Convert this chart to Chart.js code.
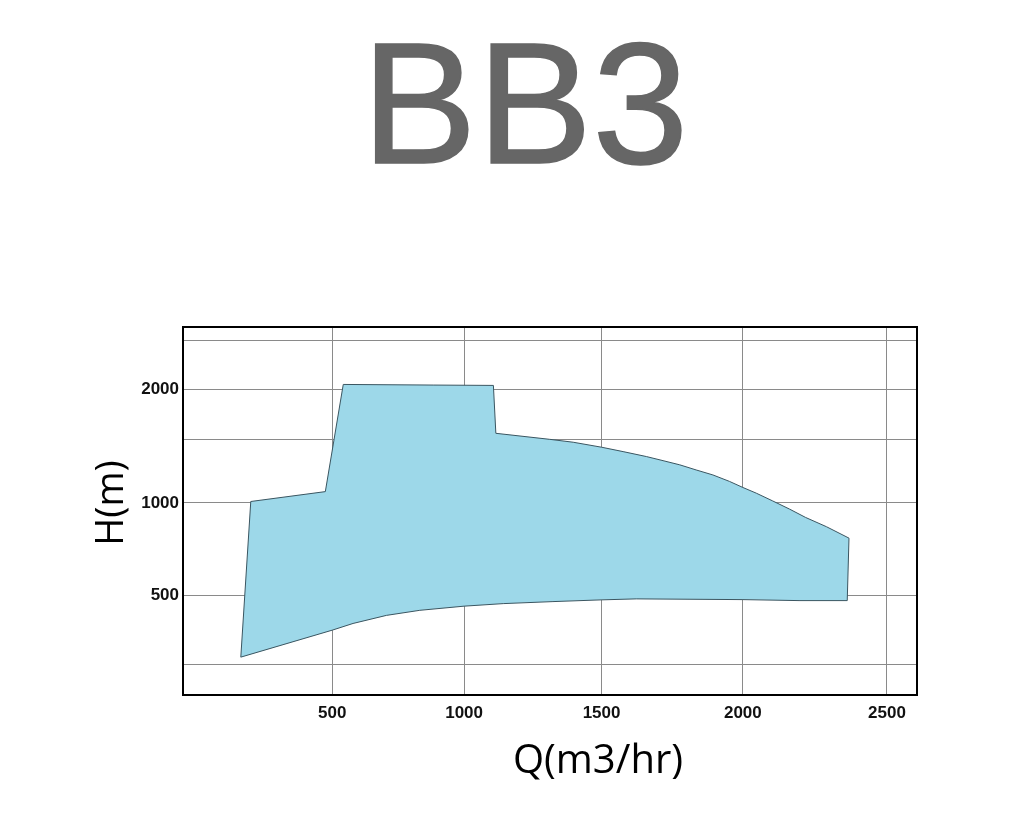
<!DOCTYPE html>
<html>
<head>
<meta charset="utf-8">
<title>BB3</title>
<script src="https://cdn.jsdelivr.net/npm/chart.js@4.4.1/dist/chart.umd.min.js"></script>
<style>
  body { margin: 0; background: #fff; }
  #grafico { display: block; }
</style>
</head>
<body>
<canvas id="grafico" width="1024" height="824"></canvas>
<script>
// Contorno del area de operacion, en sentido horario desde abajo a la izquierda
let caudal = [127, 170, 473, 543, 885, 1108, 1117, 1313, 1398, 1500, 1577, 1660, 1719, 1778, 1836, 1895,
              1953, 2000, 2047, 2103, 2163, 2219, 2291, 2369,
              2363, 2196, 2000, 1624, 1500, 1325, 1144, 1000, 835, 709, 581, 500, 127];
let altura = [286, 1009, 1078, 2056, 2049, 2045, 1555, 1500, 1474, 1430, 1392, 1350, 1316, 1282, 1241, 1202,
              1153, 1108, 1067, 1014, 958, 904, 847, 780,
              478, 478, 482, 485, 481, 474, 466, 456, 440, 421, 392, 369, 286];

let ticksX = [500, 1000, 1500, 2000, 2500];
let ticksY = [500, 1000, 2000];
let rejillaY = [265, 500, 1000, 1500, 2000, 2600];

// La grafica original no es lineal: escala de potencia
class EscalaPotencia extends Chart.LinearScale {
    _t(v) {
        const p = this.options.exponente || 1;
        return Math.sign(v) * Math.pow(Math.abs(v), p);
    }
    getPixelForValue(v) {
        if (v === null || v === undefined || isNaN(v)) return NaN;
        const s = this._t(this.min), e = this._t(this.max);
        return this.getPixelForDecimal((this._t(v) - s) / (e - s));
    }
    getValueForPixel(px) {
        const s = this._t(this.min), e = this._t(this.max);
        const t = s + this.getDecimalForPixel(px) * (e - s);
        const p = this.options.exponente || 1;
        return Math.sign(t) * Math.pow(Math.abs(t), 1 / p);
    }
}
EscalaPotencia.id = 'potencia';
EscalaPotencia.defaults = Chart.LinearScale.defaults;
Chart.register(EscalaPotencia);

let textos = {
    id: 'textos',
    afterDraw(chart) {
        const ctx = chart.ctx;
        const a = chart.chartArea;
        ctx.save();
        // marco
        ctx.strokeStyle = '#000';
        ctx.lineWidth = 2;
        ctx.strokeRect(a.left, a.top, a.right - a.left, a.bottom - a.top);
        // titulo
        ctx.fillStyle = '#666666';
        ctx.strokeStyle = '#666666';
        ctx.lineWidth = 1.5;
        ctx.font = '173px "Liberation Sans", Arial, sans-serif';
        ctx.textAlign = 'center';
        ctx.textBaseline = 'alphabetic';
        ctx.fillText('BB3', 525, 163);
        ctx.strokeText('BB3', 525, 163);
        // ejes
        ctx.fillStyle = '#000';
        ctx.font = '40px "Open Sans", sans-serif';
        ctx.textBaseline = 'middle';
        ctx.fillText('Q(m3/hr)', 598, 762);
        ctx.font = '38px "Open Sans", sans-serif';
        ctx.translate(112, 503);
        ctx.rotate(-Math.PI / 2);
        ctx.fillText('H(m)', 0, 0);
        ctx.restore();
    }
};

let puntos = caudal.map((q, i) => ({ x: q, y: altura[i] }));
let fuenteTicks = { family: '"Liberation Sans", Arial, sans-serif', size: 17, weight: 'bold' };

new Chart(document.getElementById('grafico'), {
    type: 'scatter',
    data: {
        datasets: [{
            data: puntos,
            showLine: true,
            fill: 'shape',
            backgroundColor: 'rgb(157, 216, 233)',
            borderColor: '#3a5560',
            borderWidth: 1,
            pointRadius: 0,
            tension: 0
        }]
    },
    options: {
        responsive: false,
        animation: false,
        devicePixelRatio: 1,
        layout: { padding: { left: 0, right: 107, top: 327, bottom: 0 } },
        plugins: { legend: { display: false }, tooltip: { enabled: false } },
        scales: {
            x: {
                type: 'potencia',
                exponente: 1.08,
                min: -144,
                max: 2603,
                bounds: 'data',
                afterBuildTicks: eje => { eje.ticks = ticksX.map(v => ({ value: v })); },
                afterFit: eje => { eje.height = 129; },
                grid: { color: '#8a8a8a', lineWidth: 1, drawTicks: false },
                border: { display: false },
                ticks: { color: '#111', font: fuenteTicks, padding: 8, maxRotation: 0,
                         callback: v => String(v) }
            },
            y: {
                type: 'potencia',
                exponente: 0.2946,
                min: 193,
                max: 2779,
                bounds: 'data',
                afterBuildTicks: eje => { eje.ticks = rejillaY.map(v => ({ value: v })); },
                afterFit: eje => { eje.width = 183; },
                grid: { color: '#8a8a8a', lineWidth: 1, drawTicks: false },
                border: { display: false },
                ticks: { color: '#111', font: fuenteTicks, padding: 4,
                         callback: v => ticksY.includes(v) ? String(v) : '' }
            }
        }
    },
    plugins: [textos]
});
</script>
</body>
</html>
